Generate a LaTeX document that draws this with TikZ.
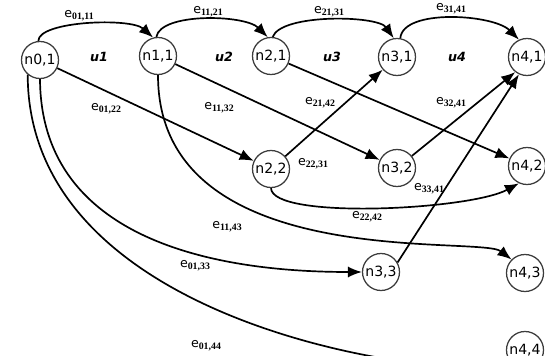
\documentclass[tikz,border=0pt]{standalone}
\usepackage{fontspec}
\setmainfont{DejaVu Sans}
\newfontfamily\subfont{Liberation Serif}
\usetikzlibrary{arrows.meta}
\definecolor{stategray}{RGB}{60,60,60}
\newcommand{\esub}[1]{\raisebox{-0.35ex}{\subfont\bfseries\fontsize{7}{8}\selectfont #1}}
\tikzset{
  state/.style={circle, draw=stategray, line width=0.9pt, minimum size=0.925cm, inner sep=0pt, font=\fontsize{10}{11}\selectfont},
  trans/.style={line width=1.2pt, -{Latex[length=10pt,width=8pt]}},
  elabel/.style={inner sep=0pt, font=\fontsize{9}{10}\selectfont},
  ulabel/.style={inner sep=0pt, font=\fontsize{9}{10}\selectfont\bfseries\itshape}
}

\begin{document}
\begin{tikzpicture}[x=0.025cm, y=0.025cm]
\useasboundingbox (0,0) rectangle (545,355);
\clip (0,0) rectangle (545,355);

% states
\node[state] (n01) at (40,295) {n0,1};
\node[state] (n11) at (158,299) {n1,1};
\node[state] (n21) at (271,299) {n2,1};
\node[state] (n31) at (397,298) {n3,1};
\node[state] (n41) at (527,298) {n4,1};
\node[state] (n22) at (271,186) {n2,2};
\node[state] (n32) at (397,187) {n3,2};
\node[state] (n42) at (527,189) {n4,2};
\node[state] (n33) at (381,83) {n3,3};
\node[state] (n43) at (525,82) {n4,3};
\node[state] (n44) at (525,5) {n4,4};

% stage labels
\node[ulabel] (u1) at (99,298) {u1};
\node[ulabel] (u2) at (224,298) {u2};
\node[ulabel] (u3) at (332,298) {u3};
\node[ulabel] (u4) at (457,298) {u4};

% top row
\draw[trans] (n01.95) .. controls +(90:20) and +(138:30) .. (n11.105);
\draw[trans] (n11.95) .. controls +(80:25) and +(135:32) .. (n21.100);
\draw[trans] (n21.85) .. controls +(70:25) and +(125:28) .. (n31.100);
\draw[trans] (n31.80) .. controls +(85:30) and +(135:36) .. (n41.115);

% straight ones
\draw[trans] (n01) -- (n22);
\draw[trans] (n11) -- (n32);
\draw[trans] (n21) -- (n42);
\draw[trans] (n22) -- (n31);
\draw[trans] (n32) -- (n41.232);
\draw[trans] (n33.30) -- (n41.245);

% long curves
\draw[trans] (n22.south) .. controls (272,135) and (470,145) .. (n42.245);
\draw[trans] (n11.south) .. controls (158,80) and (480,120) .. (n43.135);
\draw[trans] (n01.south) .. controls (41,100) and (250,83) .. (n33.west);
\draw[trans] (n01.230) .. controls (28,40) and (400,-20) .. (n44.240);

% edge labels
\node[elabel] (l0111) at (79,339) {e\esub{01,11}};
\node[elabel] (l1121) at (208,343) {e\esub{11,21}};
\node[elabel] (l2131) at (329,343) {e\esub{21,31}};
\node[elabel] (l3141) at (451,346) {e\esub{31,41}};
\node[elabel] (l0122) at (106,246) {e\esub{01,22}};
\node[elabel] (l1132) at (219,247) {e\esub{11,32}};
\node[elabel] (l2142) at (320,252) {e\esub{21,42}};
\node[elabel] (l3241) at (451,252) {e\esub{32,41}};
\node[elabel] (l2231) at (313,191) {e\esub{22,31}};
\node[elabel] (l3341) at (429,166) {e\esub{33,41}};
\node[elabel] (l2242) at (367,138) {e\esub{22,42}};
\node[elabel] (l1143) at (227,128) {e\esub{11,43}};
\node[elabel] (l0133) at (195,89) {e\esub{01,33}};
\node[elabel] (l0144) at (206,9) {e\esub{01,44}};
\end{tikzpicture}
\end{document}
